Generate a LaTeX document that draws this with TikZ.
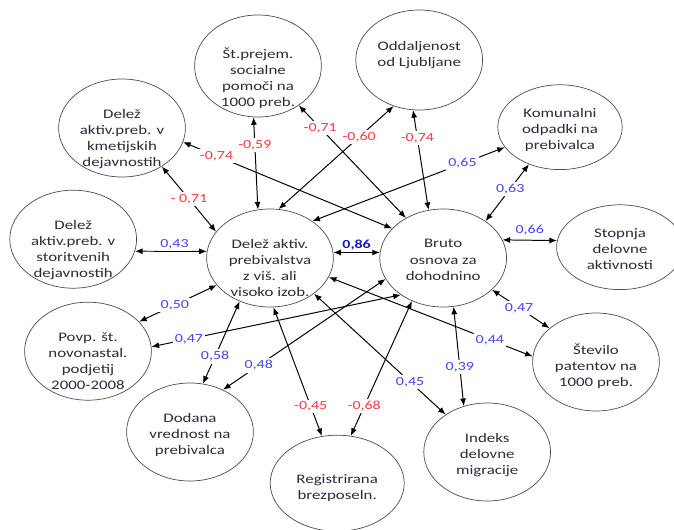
\documentclass[tikz,border=0pt]{standalone}
\usepackage{fontspec}
\setmainfont{Carlito}[FakeStretch=1.29]
\usetikzlibrary{arrows.meta, shapes.geometric}

\definecolor{nodetext}{RGB}{40,45,60}
\definecolor{negred}{RGB}{250,60,70}
\definecolor{posblue}{RGB}{70,70,235}
\definecolor{strongblue}{RGB}{25,25,200}

\begin{document}
\begin{tikzpicture}[
    >={Latex[length=1.9mm,width=1.5mm]},
    font=\fontsize{9.3}{11.4}\selectfont,
    var/.style={draw=black!70, ellipse, line width=0.5pt,
        minimum width=3.17cm, minimum height=2.45cm, inner sep=0pt,
        text=nodetext},
    link/.style={<->, line width=0.7pt},
    neglbl/.style={font=\fontsize{8.8}{10}\selectfont, text=negred,
        fill=white, inner sep=1.5pt},
    poslbl/.style={font=\fontsize{8.8}{10}\selectfont, text=posblue,
        fill=white, inner sep=1.5pt},
    stronglbl/.style={font=\fontsize{8.8}{10}\selectfont\bfseries,
        text=strongblue, inner sep=1.5pt},
]
\useasboundingbox (0,0) rectangle (16.85,-13.25);

% === Central pair ===
\node[var] (izob) at (6.75,-6.45) {\parbox[c][0.92cm][t]{2.2cm}{\centering
    Delež aktiv.\\prebivalstva\\z viš. ali\\visoko izob.}};
\node[var] (bruto) at (11.08,-6.45) {\parbox[c][0.92cm][t]{2.2cm}{\centering
    Bruto\\osnova za\\dohodnino}};

% === Outer ring ===
\node[var, minimum height=2.55cm] (socpom) at (6.45,-1.65)
    {\parbox[c][0.92cm][t]{2.2cm}{\centering
    Št.prejem.\\socialne\\pomoči na\\1000 preb.}};
\node[var] (kmet) at (3.05,-3.2) {\parbox[c][0.92cm][t]{2.2cm}{\centering
    Delež\\aktiv.preb. v\\kmetijskih\\dejavnostih}};
\node[var] (stor) at (1.83,-5.98) {\parbox[c][0.92cm][t]{2.2cm}{\centering
    Delež\\aktiv.preb. v\\storitvenih\\dejavnostih}};
\node[var, minimum height=2.5cm] (oddalj) at (10.48,-1.5)
    {\parbox[c][0.92cm][t]{2.2cm}{\centering
    Oddaljenost\\od Ljubljane}};
\node[var, minimum width=3.1cm, minimum height=2.12cm] (odpad) at (14.0,-3.18)
    {\parbox[c][0.92cm][t]{2.2cm}{\centering
    Komunalni\\odpadki na\\prebivalca}};
\node[var, minimum height=2.12cm] (stopnja) at (15.5,-6.18)
    {\parbox[c][0.92cm][t]{2.2cm}{\centering
    Stopnja\\delovne\\aktivnosti}};
\node[var] (podj) at (2.2,-8.78) {\parbox[c][0.92cm][t]{2.2cm}{\centering
    Povp. št.\\novonastal.\\podjetij\\2000-2008}};
\node[var] (dodana) at (4.75,-10.8) {\parbox[c][0.92cm][t]{2.2cm}{\centering
    Dodana\\vrednost na\\prebivalca}};
\node[var, minimum width=3.35cm, minimum height=2.4cm] (brezp) at (8.43,-12.08)
    {\parbox[c][0.42cm][t]{2.2cm}{\centering
    Registrirana\\brezposeln.}};
\node[var] (migr) at (12.18,-11.3) {\parbox[c][0.92cm][t]{2.2cm}{\centering
    Indeks\\delovne\\migracije}};
\node[var] (patent) at (14.9,-9.05) {\parbox[c][0.92cm][t]{2.2cm}{\centering
    Število\\patentov na\\1000 preb.}};

% === Horizontal links ===
\draw[link] (stor.-11) -- node[poslbl, above, pos=0.55] {0,43} (izob.174);
\draw[link] (izob.5) -- node[stronglbl, above] {0,86} (bruto.175);
\draw[link] (bruto.17) -- node[poslbl, above=2pt] {0,66} (stopnja.174);

% === Upper links ===
\draw[link] (kmet.-44) -- node[neglbl] {- 0,71} (izob.154);
\draw[link] (kmet.-13) -- node[neglbl, pos=0.16] {-0,74} (bruto.150);
\draw[link] (socpom.-95) -- node[neglbl, pos=0.3] {-0,59} (izob.104);
\draw[link] (socpom.-44) -- node[neglbl, pos=0.2] {-0,71} (bruto.133);
\draw[link] (izob.80) -- node[neglbl, pos=0.7] {-0,60} (oddalj.-119);
\draw[link] (oddalj.-97) -- node[neglbl, pos=0.28] {-0,74} (bruto.107);
\draw[link] (izob.41) -- node[poslbl, pos=0.78] {0,65} (odpad.200);
\draw[link] (bruto.41) -- node[poslbl, pos=0.57] {0,63} (odpad.-130);

% === Lower links ===
\draw[link] (izob.207) -- node[poslbl, pos=0.54] {0,50} (podj.30);
\draw[link] (podj.4) -- node[poslbl, pos=0.15] {0,47} (bruto.221);
\draw[link] (dodana.52) -- node[poslbl, pos=0.22] {0,48} (bruto.200);
\draw[link] (izob.-125) -- node[poslbl, pos=0.67] {0,58} (dodana.75);
\draw[link] (izob.-18) -- node[poslbl, pos=0.79] {0,44} (patent.175);
\draw[link] (izob.-39) -- node[poslbl, pos=0.73] {0,45} (migr.138);
\draw[link] (izob.-86) -- node[neglbl, pos=0.77] {-0,45} (brezp.108);
\draw[link] (bruto.-126) -- node[neglbl, pos=0.78] {-0,68} (brezp.74);
\draw[link] (bruto.-78) -- node[poslbl, pos=0.61] {0,39} (migr.117);
\draw[link] (bruto.-33) -- node[poslbl, pos=0.47] {0,47} (patent.144);

\end{tikzpicture}
\end{document}
